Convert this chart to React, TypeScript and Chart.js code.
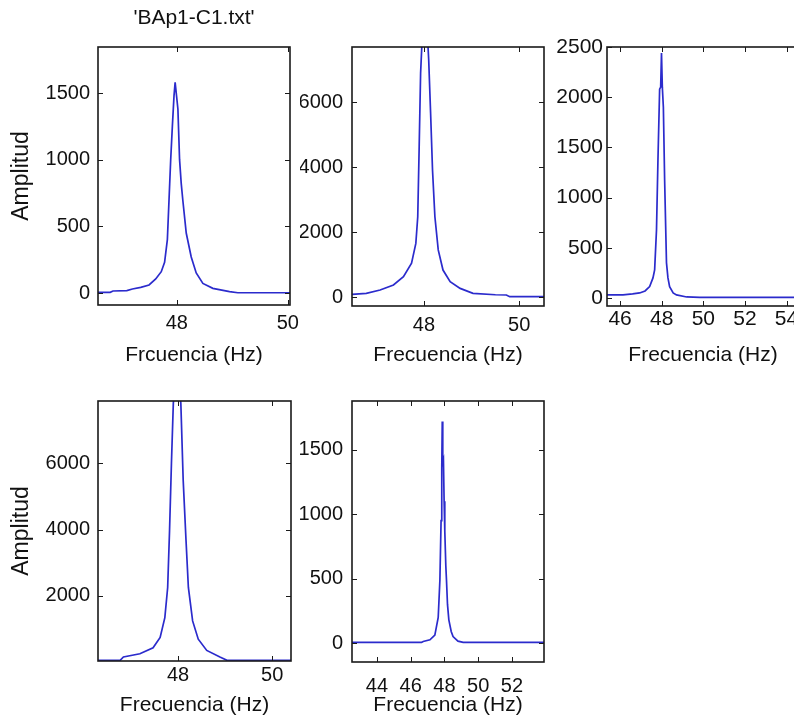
import React, { useEffect, useRef } from "react";
import { Chart, registerables } from "chart.js";

Chart.register(...registerables);

const FONT = "'Liberation Sans', Arial, Helvetica, sans-serif";
const TEXT_COLOR = "#111111";
const LINE_COLOR = "#2b2bcc";

// ---- texts ----
const chartTitle = "'BAp1-C1.txt'";
const yTitle = "Amplitud";
const xTitleFirst = "Frcuencia (Hz)";
const xTitle = "Frecuencia (Hz)";

// ---- panel 1 ----
const freq1 = [46.58, 46.8, 46.85, 47.1, 47.2, 47.35, 47.5, 47.62, 47.72, 47.78, 47.83, 47.86, 47.89, 47.92, 47.95, 47.97, 47.99, 48.02, 48.05, 48.08, 48.11, 48.17, 48.26, 48.35, 48.47, 48.65, 48.95, 49.1, 50.05];
const amp1 = [5, 5, 15, 18, 30, 42, 60, 105, 160, 230, 400, 700, 1000, 1250, 1480, 1580, 1500, 1380, 1000, 820, 690, 450, 270, 150, 72, 35, 10, 2, 2];
const xTicks1 = [48, 50];
const yTicks1 = [0, 500, 1000, 1500];

// ---- panel 2 ----
const freq2 = [46.49, 46.79, 47.08, 47.36, 47.57, 47.74, 47.83, 47.87, 47.9, 47.93, 47.97, 48.03, 48.1, 48.14, 48.18, 48.23, 48.3, 48.4, 48.55, 48.76, 49.03, 49.5, 49.73, 49.8, 50.52];
const amp2 = [80, 113, 215, 370, 625, 1040, 1650, 2470, 4630, 6890, 8200, 9300, 7300, 5660, 3910, 2470, 1450, 830, 470, 265, 113, 70, 62, 10, 10];
const xTicks2 = [48, 50];
const yTicks2 = [0, 2000, 4000, 6000];

// ---- panel 3 ----
const freq3 = [45.37, 46.14, 46.6, 46.94, 47.2, 47.42, 47.58, 47.66, 47.75, 47.82, 47.9, 47.95, 47.99, 48.03, 48.08, 48.14, 48.23, 48.3, 48.38, 48.55, 48.71, 49.2, 49.83, 54.6];
const amp3 = [30, 30, 40, 50, 70, 113, 200, 280, 680, 1380, 2080, 2100, 2440, 2100, 1900, 1180, 350, 200, 113, 50, 30, 10, 5, 5];
const xTicks3 = [46, 48, 50, 52, 54];
const yTicks3 = [0, 500, 1000, 1500, 2000, 2500];

// ---- panel 4 ----
const freq4 = [46.3, 46.77, 46.84, 47.19, 47.47, 47.62, 47.72, 47.78, 47.82, 47.86, 47.9, 47.98, 48.06, 48.11, 48.17, 48.22, 48.31, 48.43, 48.61, 48.89, 49.04, 50.4];
const amp4 = [50, 50, 150, 250, 430, 740, 1340, 2250, 3970, 5990, 7800, 9500, 7800, 5480, 3670, 2250, 1240, 690, 350, 150, 50, 50];
const xTicks4 = [48, 50];
const yTicks4 = [2000, 4000, 6000];

// ---- panel 5 ----
const freq5 = [42.52, 46.64, 46.74, 47.14, 47.43, 47.63, 47.73, 47.8, 47.84, 47.87, 47.9, 47.94, 47.98, 48.02, 48.08, 48.12, 48.18, 48.26, 48.4, 48.51, 48.8, 49.11, 53.9];
const amp5 = [5, 5, 12, 25, 62, 200, 490, 950, 1350, 1720, 1400, 1420, 1100, 870, 600, 490, 300, 180, 90, 50, 15, 5, 5];
const xTicks5 = [44, 46, 48, 50, 52];
const yTicks5 = [0, 500, 1000, 1500];

type Panel = {
  freq: number[];
  amp: number[];
  xTicks: number[];
  yTicks: number[];
  xRange: [number, number];
  yRange: [number, number];
  canvas: { left: number; top: number; width: number; height: number };
  padTop: number;
  padRight: number;
  yw: number;
  xh: number;
  xTickPad: number;
  yTickPad: number;
  tickSize: number;
  xTitleText: string;
  xTitlePadBottom: number;
  showYTitle: boolean;
  showTitle: boolean;
};

const panels: Panel[] = [
  {
    freq: freq1, amp: amp1, xTicks: xTicks1, yTicks: yTicks1,
    xRange: [46.58, 50.04], yRange: [-90, 1845],
    canvas: { left: 0, top: 0, width: 306, height: 371 },
    padTop: 0, padRight: 16, yw: 98, xh: 66, xTickPad: 6, yTickPad: 8, tickSize: 20,
    xTitleText: xTitleFirst, xTitlePadBottom: 3.4, showYTitle: true, showTitle: true,
  },
  {
    freq: freq2, amp: amp2, xTicks: xTicks2, yTicks: yTicks2,
    xRange: [46.49, 50.52], yRange: [-277, 7700],
    canvas: { left: 300, top: 0, width: 256, height: 371 },
    padTop: 47, padRight: 12, yw: 52, xh: 65, xTickPad: 7, yTickPad: 9, tickSize: 20,
    xTitleText: xTitle, xTitlePadBottom: 3.4, showYTitle: false, showTitle: false,
  },
  {
    freq: freq3, amp: amp3, xTicks: xTicks3, yTicks: yTicks3,
    xRange: [45.37, 54.6], yRange: [-80, 2500],
    canvas: { left: 555, top: 0, width: 260, height: 371 },
    padTop: 47, padRight: 16, yw: 52, xh: 65, xTickPad: 1, yTickPad: 4, tickSize: 21,
    xTitleText: xTitle, xTitlePadBottom: 3.4, showYTitle: false, showTitle: false,
  },
  {
    freq: freq4, amp: amp4, xTicks: xTicks4, yTicks: yTicks4,
    xRange: [46.3, 50.4], yRange: [30, 7880],
    canvas: { left: 0, top: 380, width: 305, height: 347 },
    padTop: 21, padRight: 14, yw: 98, xh: 66, xTickPad: 2, yTickPad: 8, tickSize: 20,
    xTitleText: xTitle, xTitlePadBottom: 9.4, showYTitle: true, showTitle: false,
  },
  {
    freq: freq5, amp: amp5, xTicks: xTicks5, yTicks: yTicks5,
    xRange: [42.52, 53.9], yRange: [-147, 1879],
    canvas: { left: 300, top: 380, width: 256, height: 347 },
    padTop: 20, padRight: 12, yw: 52, xh: 65, xTickPad: 12, yTickPad: 9, tickSize: 20,
    xTitleText: xTitle, xTitlePadBottom: 9.4, showYTitle: false, showTitle: false,
  },
];

const boxPlugin = {
  id: "matlabBox",
  afterDraw(chart: any) {
    const { ctx, chartArea, scales } = chart;
    const { left, right, top, bottom } = chartArea;
    const tl = 5;
    ctx.save();
    ctx.strokeStyle = "#1a1a1a";
    ctx.lineWidth = 1;
    ctx.beginPath();
    scales.x.ticks.forEach((t: any) => {
      const px = Math.round(scales.x.getPixelForValue(t.value)) + 0.5;
      ctx.moveTo(px, bottom);
      ctx.lineTo(px, bottom - tl);
      ctx.moveTo(px, top);
      ctx.lineTo(px, top + tl);
    });
    scales.y.ticks.forEach((t: any) => {
      const py = Math.round(scales.y.getPixelForValue(t.value)) + 0.5;
      ctx.moveTo(left, py);
      ctx.lineTo(left + tl, py);
      ctx.moveTo(right, py);
      ctx.lineTo(right - tl, py);
    });
    ctx.stroke();
    ctx.lineWidth = 1.6;
    ctx.strokeRect(left, top, right - left, bottom - top);
    ctx.restore();
  },
};

function PanelChart({ p }: { p: Panel }) {
  const ref = useRef<HTMLCanvasElement | null>(null);
  useEffect(() => {
    if (!ref.current) return;
    const tickFont = { family: FONT, size: p.tickSize };
    const titleFont = { family: FONT, size: 21 };
    const chart = new Chart(ref.current, {
      type: "line",
      data: {
        datasets: [
          {
            data: p.freq.map((f, i) => ({ x: f, y: p.amp[i] })),
            borderColor: LINE_COLOR,
            borderWidth: 1.7,
            pointRadius: 0,
            tension: 0,
            fill: false,
          },
        ],
      },
      plugins: [boxPlugin],
      options: {
        animation: false,
        responsive: false,
        devicePixelRatio: 1,
        layout: { padding: { top: p.padTop, right: p.padRight, left: 0, bottom: 0 } },
        plugins: {
          legend: { display: false },
          tooltip: { enabled: false },
          title: p.showTitle
            ? {
                display: true,
                text: chartTitle,
                color: TEXT_COLOR,
                font: { family: FONT, size: 21, weight: "normal" },
                padding: { top: 6, bottom: 15.8 },
                fullSize: false,
              }
            : { display: false },
        },
        scales: {
          x: {
            type: "linear",
            min: p.xRange[0],
            max: p.xRange[1],
            afterBuildTicks: (s: any) => {
              s.ticks = p.xTicks.map((v) => ({ value: v }));
            },
            afterFit: (s: any) => {
              s.height = p.xh;
            },
            grid: { display: false, drawTicks: false },
            border: { display: false },
            ticks: {
              font: tickFont,
              color: TEXT_COLOR,
              padding: p.xTickPad,
              maxRotation: 0,
              autoSkip: false,
              callback: (v: any) => String(v),
            },
            title: {
              display: true,
              text: p.xTitleText,
              color: TEXT_COLOR,
              font: titleFont,
              padding: { top: 0, bottom: p.xTitlePadBottom },
            },
          },
          y: {
            type: "linear",
            min: p.yRange[0],
            max: p.yRange[1],
            afterBuildTicks: (s: any) => {
              s.ticks = p.yTicks.map((v) => ({ value: v }));
            },
            afterFit: (s: any) => {
              s.width = p.yw;
            },
            grid: { display: false, drawTicks: false },
            border: { display: false },
            ticks: {
              font: tickFont,
              color: TEXT_COLOR,
              padding: p.yTickPad,
              autoSkip: false,
              callback: (v: any) => String(v),
            },
            title: {
              display: p.showYTitle,
              text: yTitle,
              color: TEXT_COLOR,
              font: { family: FONT, size: 23 },
              padding: { top: 8, bottom: 0 },
            },
          },
        },
      } as any,
    });
    return () => chart.destroy();
  }, [p]);
  return (
    <canvas
      ref={ref}
      width={p.canvas.width}
      height={p.canvas.height}
      style={{
        position: "absolute",
        left: p.canvas.left,
        top: p.canvas.top,
        width: p.canvas.width,
        height: p.canvas.height,
      }}
    />
  );
}

export default function App() {
  return (
    <div
      style={{
        position: "fixed",
        left: 0,
        top: 0,
        width: 794,
        height: 727,
        overflow: "hidden",
        background: "#ffffff",
      }}
    >
      {panels.map((p, i) => (
        <PanelChart key={i} p={p} />
      ))}
    </div>
  );
}
